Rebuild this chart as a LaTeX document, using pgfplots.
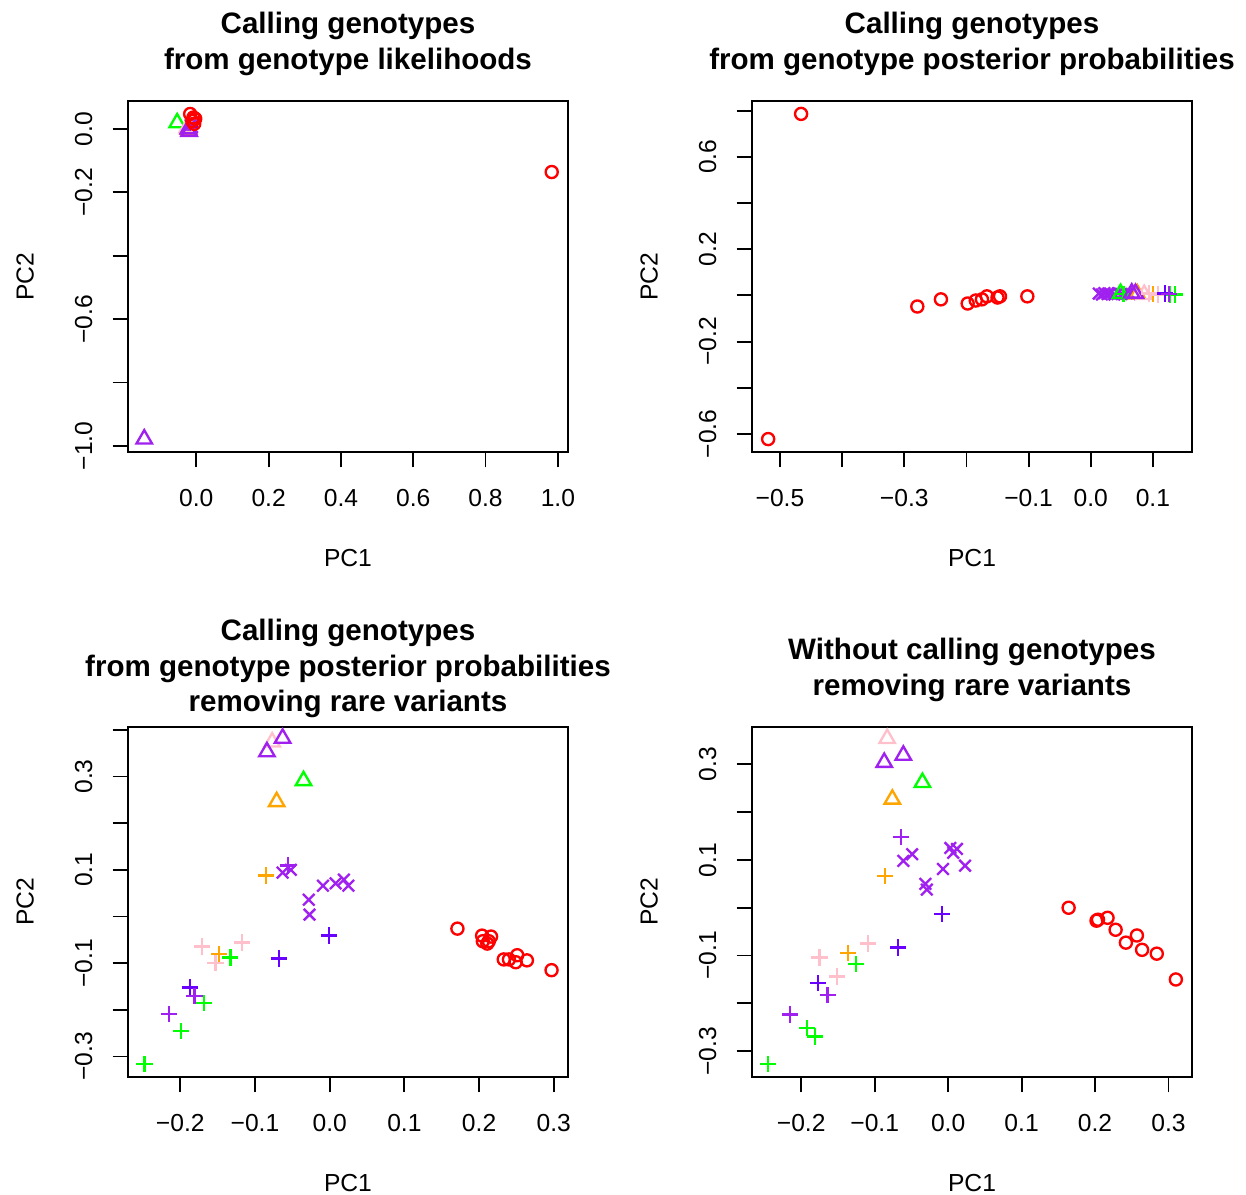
\documentclass[border=0pt]{standalone}
\usepackage{fontspec}
\setmainfont{Liberation Sans}
\usepackage{xcolor}
\usepackage{tikz}
\usepackage{pgfplots}
\pgfplotsset{compat=1.18}
\definecolor{rred}{HTML}{FF0000}
\definecolor{rgreen}{HTML}{00FF00}
\definecolor{rpurple}{HTML}{A020F0}
\definecolor{rviolet}{HTML}{6A00FF}
\definecolor{rorange}{HTML}{FFA500}
\definecolor{rpink}{HTML}{FFC0CB}
\pgfplotsset{
  rplot/.style={
    scale only axis, width=177.98bp, height=141.98bp,
    anchor=south west, clip=false,
    axis line style={line width=0.75bp},
    tick style={line width=0.75bp, black},
    tick align=outside, tick pos=left,
    major tick length=6.2bp, minor tick num=0,
    tick label style={font=\fontsize{10}{12}\selectfont, inner sep=0pt},
    xticklabel shift=8.5bp,
    yticklabel style={rotate=90, anchor=south},
    yticklabel shift=8bp,
    xlabel={PC1}, ylabel={PC2},
    label style={font=\fontsize{10}{12}\selectfont},
    every axis x label/.style={at={(axis description cs:0.5,-0.302)}, anchor=center},
    every axis y label/.style={at={(axis description cs:-0.234,0.5)}, anchor=center, rotate=90},
    title style={font=\bfseries\fontsize{12}{14.4}\selectfont, align=center,
                 anchor=south, inner sep=0pt, at={(axis description cs:0.5,1.0294)}},
    scaled ticks=false,
  },
  mk/.style={only marks, color=#1, mark options={solid, line width=0.95bp}},
  circ/.style={mk=#1, mark=o, mark size=2.45bp},
  tri/.style={mk=#1, mark=triangle, mark size=3.6bp},
  pls/.style={mk=#1, mark=+, mark size=3.3bp},
  crs/.style={mk=#1, mark=x, mark size=3.3bp},
}
\begin{document}
\begin{tikzpicture}
\path[use as bounding box] (0,0) rectangle (504bp,-483.37bp);

% top left
\begin{axis}[rplot, at={(51.77bp,-182.83bp)},
  title={Calling genotypes\\from genotype likelihoods},
  xmin=-0.189, xmax=1.028, ymin=-1.019, ymax=0.088,
  xtick={0,0.2,0.4,0.6,0.8,1.0},
  xticklabels={0.0,0.2,0.4,0.6,0.8,1.0},
  ytick={-1,-0.8,-0.6,-0.4,-0.2,0},
  yticklabels={−1.0,,−0.6,,−0.2,0.0},
]
\addplot[tri=rgreen] coordinates {(-0.053,0.019)};
\addplot[pls=rviolet] coordinates {(-0.018,0.008)};
\addplot[crs=rpurple] coordinates {(-0.016,0.012) (-0.012,0.006)};
\addplot[tri=rpink] coordinates {(-0.025,0.004)};
\addplot[tri=rorange] coordinates {(-0.022,-0.002)};
\addplot[tri=rpurple] coordinates {(-0.144,-0.978) (-0.022,0.0) (-0.020,-0.008)};
\addplot[circ=rred] coordinates {(0.983,-0.136) (-0.017,0.047) (-0.003,0.032)
  (-0.006,0.016) (-0.011,0.025) (-0.008,0.036)};
\end{axis}

% top right
\begin{axis}[rplot, at={(304.18bp,-182.83bp)},
  title={Calling genotypes\\from genotype posterior probabilities},
  xmin=-0.545, xmax=0.163, ymin=-0.678, ymax=0.842,
  xtick={-0.5,-0.4,-0.3,-0.2,-0.1,0,0.1},
  xticklabels={−0.5,,−0.3,,−0.1,0.0,0.1},
  ytick={-0.6,-0.4,-0.2,0,0.2,0.4,0.6,0.8},
  yticklabels={−0.6,,−0.2,,0.2,,0.6,},
]
\addplot[circ=rred] coordinates {(-0.466,0.786) (-0.519,-0.622) (-0.279,-0.048)
  (-0.241,-0.017) (-0.198,-0.035) (-0.185,-0.022) (-0.175,-0.017) (-0.167,-0.004)
  (-0.150,-0.009) (-0.146,-0.004) (-0.102,-0.004)};
\addplot[crs=rpurple] coordinates {(0.013,0.008) (0.018,0.004) (0.022,0.010)
  (0.027,0.006) (0.031,0.008) (0.038,0.004) (0.044,0.010) (0.050,0.006)
  (0.058,0.008) (0.063,0.006)};
\addplot[tri=rgreen] coordinates {(0.048,0.008)};
\addplot[pls=rgreen] coordinates {(0.053,0.006) (0.128,0.004) (0.136,0.004)};
\addplot[tri=rorange] coordinates {(0.075,0.006)};
\addplot[tri=rpink] coordinates {(0.086,0.004)};
\addplot[tri=rpurple] coordinates {(0.066,0.010) (0.072,0.008)};
\addplot[pls=rorange] coordinates {(0.100,0.006)};
\addplot[pls=rpink] coordinates {(0.094,0.008) (0.108,0.004)};
\addplot[pls=rviolet] coordinates {(0.119,0.008)};
\addplot[pls=rpurple] coordinates {(0.126,0.006)};
\end{axis}

% bottom left
\begin{axis}[rplot, at={(51.77bp,-435.64bp)}, height=141.57bp,
  title={Calling genotypes\\from genotype posterior probabilities\\removing rare variants},
  title style={at={(axis description cs:0.5,0.982)}},
  xmin=-0.270, xmax=0.319, ymin=-0.344, ymax=0.406,
  xtick={-0.2,-0.1,0,0.1,0.2,0.3},
  xticklabels={−0.2,−0.1,0.0,0.1,0.2,0.3},
  ytick={-0.3,-0.2,-0.1,0,0.1,0.2,0.3,0.4},
  yticklabels={−0.3,,−0.1,,0.1,,0.3,},
]
\addplot[tri=rpink] coordinates {(-0.077,0.374)};
\addplot[tri=rpurple] coordinates {(-0.063,0.382) (-0.084,0.353)};
\addplot[tri=rgreen] coordinates {(-0.035,0.291)};
\addplot[tri=rorange] coordinates {(-0.071,0.246)};
\addplot[pls=rpink] coordinates {(-0.171,-0.064) (-0.153,-0.100) (-0.117,-0.056)};
\addplot[pls=rorange] coordinates {(-0.148,-0.081) (-0.085,0.088)};
\addplot[pls=rgreen] coordinates {(-0.133,-0.088) (-0.168,-0.186) (-0.199,-0.246) (-0.248,-0.316)};
\addplot[pls=rviolet] coordinates {(-0.187,-0.152) (-0.068,-0.090) (-0.001,-0.041)};
\addplot[pls=rpurple] coordinates {(-0.181,-0.171) (-0.215,-0.209) (-0.056,0.109)};
\addplot[crs=rpurple] coordinates {(-0.063,0.094) (-0.052,0.100) (-0.009,0.066)
  (0.008,0.071) (0.019,0.079) (0.025,0.066) (-0.028,0.036) (-0.027,0.004)};
\addplot[circ=rred] coordinates {(0.171,-0.026) (0.204,-0.041) (0.216,-0.043)
  (0.205,-0.053) (0.211,-0.058) (0.213,-0.053) (0.233,-0.092) (0.240,-0.092)
  (0.251,-0.083) (0.249,-0.098) (0.264,-0.094) (0.297,-0.115)};
\end{axis}

% bottom right
\begin{axis}[rplot, at={(304.18bp,-435.64bp)}, height=141.57bp,
  title={Without calling genotypes\\removing rare variants},
  title style={at={(axis description cs:0.5,1.0296)}},
  xmin=-0.267, xmax=0.332, ymin=-0.354, ymax=0.378,
  xtick={-0.2,-0.1,0,0.1,0.2,0.3},
  xticklabels={−0.2,−0.1,0.0,0.1,0.2,0.3},
  ytick={-0.3,-0.2,-0.1,0,0.1,0.2,0.3},
  yticklabels={−0.3,,−0.1,,0.1,,0.3},
]
\addplot[tri=rpink] coordinates {(-0.083,0.354)};
\addplot[tri=rpurple] coordinates {(-0.061,0.319) (-0.087,0.304)};
\addplot[tri=rgreen] coordinates {(-0.035,0.262)};
\addplot[tri=rorange] coordinates {(-0.076,0.227)};
\addplot[pls=rpink] coordinates {(-0.109,-0.075) (-0.175,-0.104) (-0.151,-0.144)};
\addplot[pls=rorange] coordinates {(-0.136,-0.094) (-0.086,0.067)};
\addplot[pls=rgreen] coordinates {(-0.125,-0.117) (-0.192,-0.252) (-0.181,-0.269) (-0.245,-0.327)};
\addplot[pls=rviolet] coordinates {(-0.008,-0.013) (-0.068,-0.083) (-0.177,-0.158)};
\addplot[pls=rpurple] coordinates {(-0.164,-0.183) (-0.215,-0.223) (-0.064,0.148)};
\addplot[crs=rpurple] coordinates {(-0.049,0.112) (-0.061,0.098) (0.003,0.125)
  (0.012,0.123) (0.007,0.115) (-0.007,0.081) (0.023,0.088) (-0.031,0.050) (-0.029,0.038)};
\addplot[circ=rred] coordinates {(0.164,0.0) (0.202,-0.027) (0.204,-0.025)
  (0.217,-0.021) (0.228,-0.046) (0.242,-0.073) (0.257,-0.058) (0.264,-0.088)
  (0.284,-0.096) (0.310,-0.150)};
\end{axis}
\end{tikzpicture}
\end{document}
